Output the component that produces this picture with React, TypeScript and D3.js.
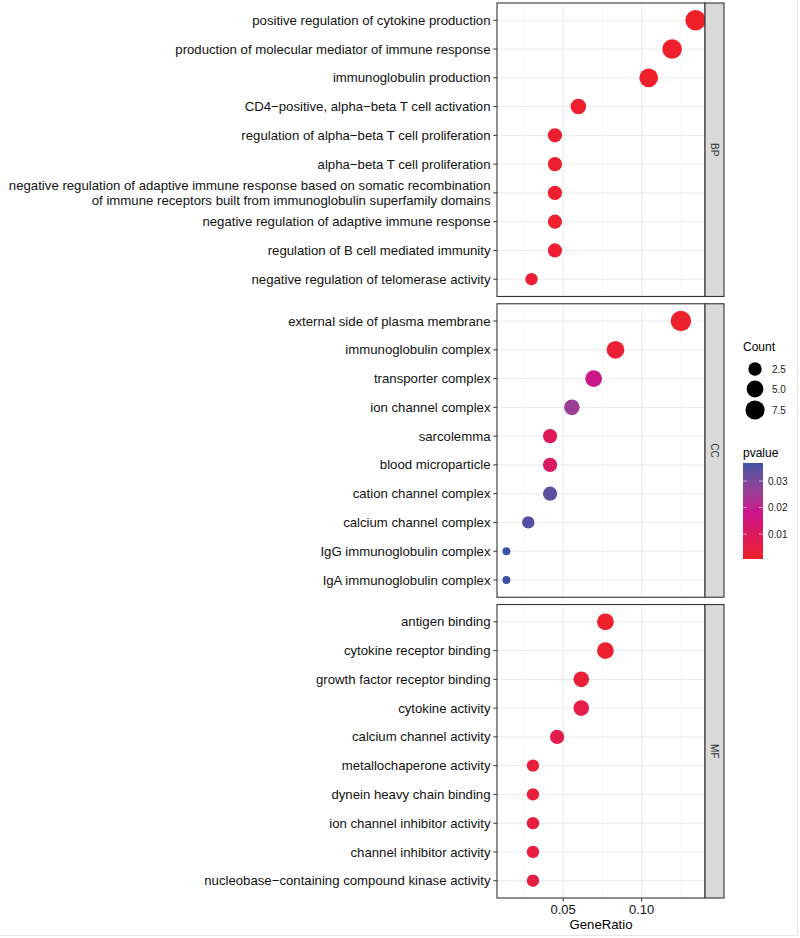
import React from 'react';
import * as d3 from 'd3';

// GO enrichment dot plot, three facets (BP / CC / MF)

const bpTerms = [
  'positive regulation of cytokine production',
  'production of molecular mediator of immune response',
  'immunoglobulin production',
  'CD4\u2212positive, alpha\u2212beta T cell activation',
  'regulation of alpha\u2212beta T cell proliferation',
  'alpha\u2212beta T cell proliferation',
  'negative regulation of adaptive immune response based on somatic recombination\nof immune receptors built from immunoglobulin superfamily domains',
  'negative regulation of adaptive immune response',
  'regulation of B cell mediated immunity',
  'negative regulation of telomerase activity',
];
const bpCounts = [9, 8, 7, 4, 3, 3, 3, 3, 3, 2];
const bpPvalues = [0.0006, 0.0007, 0.0008, 0.0012, 0.0015, 0.0015, 0.0016, 0.0016, 0.0017, 0.002];
const bpTotal = 67;

const ccTerms = [
  'external side of plasma membrane',
  'immunoglobulin complex',
  'transporter complex',
  'ion channel complex',
  'sarcolemma',
  'blood microparticle',
  'cation channel complex',
  'calcium channel complex',
  'IgG immunoglobulin complex',
  'IgA immunoglobulin complex',
];
const ccCounts = [9, 6, 5, 4, 3, 3, 3, 2, 1, 1];
const ccPvalues = [0.0012, 0.0025, 0.018, 0.026, 0.009, 0.011, 0.034, 0.035, 0.0368, 0.0368];
const ccTotal = 72;

const mfTerms = [
  'antigen binding',
  'cytokine receptor binding',
  'growth factor receptor binding',
  'cytokine activity',
  'calcium channel activity',
  'metallochaperone activity',
  'dynein heavy chain binding',
  'ion channel inhibitor activity',
  'channel inhibitor activity',
  'nucleobase\u2212containing compound kinase activity',
];
const mfCounts = [5, 5, 4, 4, 3, 2, 2, 2, 2, 2];
const mfPvalues = [0.001, 0.0015, 0.003, 0.006, 0.0065, 0.0035, 0.0035, 0.004, 0.0045, 0.005];
const mfTotal = 65;

const facetNames = ['BP', 'CC', 'MF'];
const xTicks = [0.05, 0.1];
const xMinor = [0.025, 0.075, 0.125];
const sizeLegend = [2.5, 5.0, 7.5];
const pTicks = [0.01, 0.02, 0.03];
const pColors = ['#EE2129', '#C8168C', '#3B52A3'];

const W = 800;
const H = 938;
const panelLeft = 497;
const panelRight = 705;
const stripW = 19;
const panelTop = 3;
const panelBottom = 898;
const panelGap = 7.3;
const labelSize = 13.2;
const font = 'Liberation Sans, Arial, Helvetica, sans-serif';

type Row = { term: string; count: number; p: number; ratio: number };

const facets = [
  { terms: bpTerms, counts: bpCounts, p: bpPvalues, total: bpTotal },
  { terms: ccTerms, counts: ccCounts, p: ccPvalues, total: ccTotal },
  { terms: mfTerms, counts: mfCounts, p: mfPvalues, total: mfTotal },
].map((f, i) => ({
  name: facetNames[i],
  rows: f.terms.map((t, j) => ({
    term: t,
    count: f.counts[j],
    p: f.p[j],
    ratio: f.counts[j] / f.total,
  })) as Row[],
}));

const allRows = facets.flatMap((f) => f.rows);

export default function App() {
  const [rMin, rMax] = d3.extent(allRows, (d) => d.ratio) as [number, number];
  const pad = (rMax - rMin) * 0.05;
  const x = d3.scaleLinear().domain([rMin - pad, rMax + pad]).range([panelLeft, panelRight]);

  const [cMin, cMax] = d3.extent(allRows, (d) => d.count) as [number, number];
  const size = (c: number) => 4 + 6.2 * Math.sqrt((c - cMin) / (cMax - cMin));

  const [pMin, pMax] = d3.extent(allRows, (d) => d.p) as [number, number];
  const color = d3
    .scaleLinear<string>()
    .domain([pMin, (pMin + pMax) / 2, pMax])
    .range(pColors)
    .interpolate(d3.interpolateLab);

  const panelH = (panelBottom - panelTop - 2 * panelGap) / 3;

  // colour bar
  const barX = 743;
  const barW = 20;
  const barTop = 463;
  const barBottom = 559;
  const barY = d3.scaleLinear().domain([pMin, pMax]).range([barBottom, barTop]);

  return (
    <svg
      width={W}
      height={H}
      style={{ position: 'absolute', left: 0, top: 0, background: '#fff' }}
      fontFamily={font}
    >
      <defs>
        <linearGradient id="pgrad" x1="0" y1="1" x2="0" y2="0">
          {d3.range(0, 1.0001, 0.05).map((t) => (
            <stop key={t} offset={t} stopColor={color(pMin + t * (pMax - pMin))} />
          ))}
        </linearGradient>
      </defs>

      {facets.map((f, i) => {
        const top = panelTop + i * (panelH + panelGap);
        const y = d3
          .scalePoint<string>()
          .domain(f.rows.map((d) => d.term))
          .range([top, top + panelH])
          .padding(0.6);
        return (
          <g key={f.name}>
            <rect x={panelLeft} y={top} width={panelRight - panelLeft} height={panelH} fill="#fff" />
            {xMinor.map((v) => (
              <line key={'m' + v} x1={x(v)} x2={x(v)} y1={top} y2={top + panelH} stroke="#F4F4F4" strokeWidth={0.6} />
            ))}
            {xTicks.map((v) => (
              <line key={'g' + v} x1={x(v)} x2={x(v)} y1={top} y2={top + panelH} stroke="#EBEBEB" strokeWidth={1} />
            ))}
            {f.rows.map((d) => (
              <line key={'h' + d.term} x1={panelLeft} x2={panelRight} y1={y(d.term)} y2={y(d.term)} stroke="#EBEBEB" strokeWidth={1} />
            ))}
            {f.rows.map((d) => (
              <circle key={'c' + d.term} cx={x(d.ratio)} cy={y(d.term)} r={size(d.count)} fill={color(d.p)} />
            ))}
            <rect x={panelLeft} y={top} width={panelRight - panelLeft} height={panelH} fill="none" stroke="#333" strokeWidth={1.1} />
            {/* y axis */}
            {f.rows.map((d) => {
              const yy = y(d.term) as number;
              const lines = d.term.split('\n');
              return (
                <g key={'t' + d.term}>
                  <line x1={panelLeft - 3.7} x2={panelLeft} y1={yy} y2={yy} stroke="#333" strokeWidth={1} />
                  <text x={panelLeft - 6.5} y={yy} textAnchor="end" fontSize={labelSize} fill="#111">
                    {lines.map((l, k) => (
                      <tspan key={k} x={panelLeft - 6.5} dy={k === 0 ? (-(lines.length - 1) * 14.5) / 2 + 4.6 : 14.5}>
                        {l}
                      </tspan>
                    ))}
                  </text>
                </g>
              );
            })}
            {/* strip */}
            <rect x={panelRight} y={top} width={stripW} height={panelH} fill="#D9D9D9" stroke="#333" strokeWidth={1.1} />
            <text
              transform={`translate(${panelRight + stripW / 2},${top + panelH / 2}) rotate(90)`}
              textAnchor="middle"
              dy="0.35em"
              fontSize={10}
              fill="#333"
            >
              {f.name}
            </text>
          </g>
        );
      })}

      {/* x axis */}
      {xTicks.map((v) => (
        <g key={'xt' + v}>
          <line x1={x(v)} x2={x(v)} y1={panelBottom} y2={panelBottom + 3.7} stroke="#333" strokeWidth={1} />
          <text x={x(v)} y={panelBottom + 16} textAnchor="middle" fontSize={13} fill="#111">
            {d3.format('.2f')(v)}
          </text>
        </g>
      ))}
      <text x={(panelLeft + panelRight) / 2} y={929} textAnchor="middle" fontSize={13.2} fill="#000">
        GeneRatio
      </text>

      {/* size legend */}
      <text x={743} y={351} fontSize={12} fill="#000">Count</text>
      {sizeLegend.map((v, k) => {
        const cy = [369, 389, 410][k];
        return (
          <g key={'s' + v}>
            <circle cx={755} cy={cy} r={size(v)} fill="#000" />
            <text x={772} y={cy + 3.5} fontSize={10} fill="#1a1a1a">
              {d3.format('.1f')(v)}
            </text>
          </g>
        );
      })}

      {/* colour legend */}
      <text x={743} y={457} fontSize={12} fill="#000">pvalue</text>
      <rect x={barX} y={barTop} width={barW} height={barBottom - barTop} fill="url(#pgrad)" />
      {pTicks.map((v) => (
        <g key={'p' + v}>
          <line x1={barX} x2={barX + 4} y1={barY(v)} y2={barY(v)} stroke="#fff" strokeWidth={0.8} opacity={0.7} />
          <line x1={barX + barW - 4} x2={barX + barW} y1={barY(v)} y2={barY(v)} stroke="#fff" strokeWidth={0.8} opacity={0.7} />
          <text x={768} y={barY(v) + 3.5} fontSize={10} fill="#1a1a1a">
            {d3.format('.2f')(v)}
          </text>
        </g>
      ))}

      {/* faint page edges */}
      <line x1={797.5} x2={797.5} y1={0} y2={936} stroke="#E6E6E6" />
      <line x1={0} x2={798} y1={935.5} y2={935.5} stroke="#E6E6E6" />
    </svg>
  );
}
